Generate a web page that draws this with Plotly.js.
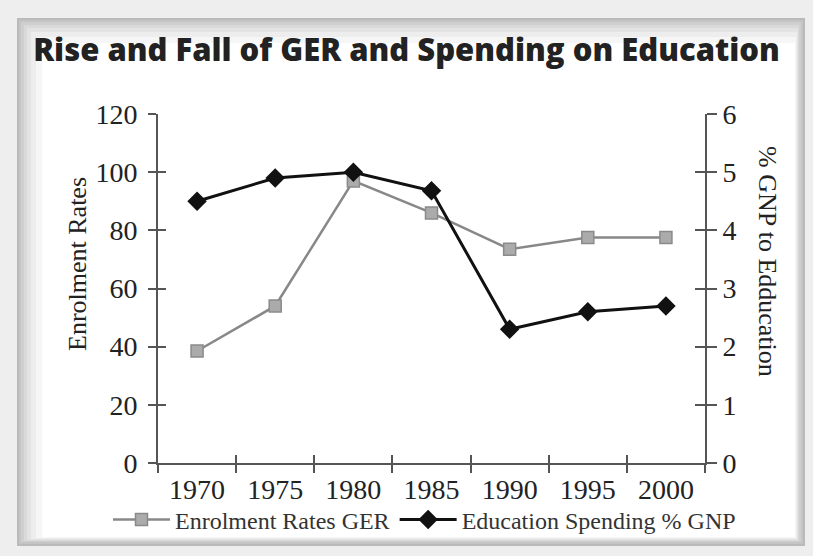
<!DOCTYPE html>
<html>
<head>
<meta charset="utf-8">
<script src="https://cdn.plot.ly/plotly-3.0.1.min.js"></script>
<style>html,body{margin:0;padding:0;background:#eeeeee;}#chart{width:813px;height:556px;}</style>
</head>
<body>
<div id="chart"></div>
<script>
// ---- data ----
const years = [1970, 1975, 1980, 1985, 1990, 1995, 2000];
const gerValues = [38.5, 54, 97, 86, 73.5, 77.5, 77.5];
const spendingValues = [4.5, 4.9, 5.0, 4.68, 2.3, 2.6, 2.7];
const gerName = "Enrolment Rates GER";
const spendingName = "Education Spending % GNP";
const titleText = "Rise and Fall of GER and Spending on Education";
const leftTitle = "Enrolment Rates";
const rightTitle = "% GNP to Edducation";

// ---- layout geometry ----
const W = 813, H = 556;
const L = 158, R = 705, T = 114, B = 463;
const px2x = p => (p - L) / (R - L);
const py2y = p => (B - p) / (B - T);

const half = (years[1] - years[0]) / 2;
const bounds = [years[0] - half].concat(years.map(y => y + half));
const xRange = [years[0] - half, years[years.length - 1] + half];

const serif = "Liberation Serif, Times New Roman, serif";
const axisColor = "#555";

function panelRect(x0, y0, x1, y1, fill) {
  return {type: "rect", xref: "paper", yref: "paper", layer: "below",
    x0: px2x(x0), x1: px2x(x1), y0: py2y(y1), y1: py2y(y0),
    fillcolor: fill, line: {width: 0}};
}
const shapes = [
  panelRect(17, 18, 805, 546, "#bababa"),
  panelRect(19, 20, 803, 544, "#c4c4c4"),
  panelRect(21, 22, 801, 542, "#cfcfcf"),
  panelRect(24, 25, 799, 541, "#d9d9d9"),
  panelRect(27, 28, 798, 540, "#e3e3e3"),
  panelRect(31, 32, 797, 539, "#ededed"),
  panelRect(36, 37, 796, 538, "#f6f6f6"),
  panelRect(42, 43, 795, 537, "#ffffff")
];

const dummy = (xa, ya) => ({x: [null], y: [null], xaxis: xa, yaxis: ya, type: "scatter", mode: "markers",
  showlegend: false, hoverinfo: "skip"});

const traces = [
  {x: years, y: gerValues, name: gerName, type: "scatter", mode: "lines+markers",
   xaxis: "x", yaxis: "y",
   line: {color: "#888888", width: 2.5},
   marker: {symbol: "square", size: 12, color: "#ababab", line: {color: "#8a8a8a", width: 1.5}}},
  {x: years, y: spendingValues, name: spendingName, type: "scatter", mode: "lines+markers",
   xaxis: "x", yaxis: "y2",
   line: {color: "#111111", width: 3},
   marker: {symbol: "diamond", size: 15, color: "#111111"}},
  dummy("x2", "y"), dummy("x", "y3"), dummy("x", "y4")
];

const tickFont = {family: serif, size: 28, color: "#222"};

const layout = {
  width: W, height: H,
  margin: {l: L, r: W - R, t: T, b: H - B},
  paper_bgcolor: "#eeeeee",
  plot_bgcolor: "rgba(0,0,0,0)",
  showlegend: true,
  title: {text: titleText, x: 0.5, xanchor: "center", y: 1 - 50 / H, yanchor: "middle", yref: "container",
          font: {family: "Open Sans, DejaVu Sans, sans-serif", size: 31, weight: 800, color: "#222"}},
  xaxis: {type: "linear", range: xRange, tickmode: "array", tickvals: years, ticktext: years.map(String),
          ticks: "", showgrid: false, zeroline: false, showline: true, linecolor: axisColor, linewidth: 2,
          tickfont: tickFont, ticklabelstandoff: 0,
          minor: {tickmode: "array", tickvals: bounds, ticks: "outside", ticklen: 8, tickwidth: 2, tickcolor: axisColor, showgrid: false}},
  xaxis2: {type: "linear", range: xRange, overlaying: "x", anchor: "y", side: "bottom", tickmode: "array", tickvals: bounds,
           ticks: "inside", ticklen: 8, tickwidth: 2, tickcolor: axisColor, showticklabels: false,
           showgrid: false, zeroline: false, showline: false},
  yaxis: {range: [0, 120], tickmode: "linear", tick0: 0, dtick: 20, ticks: "outside", ticklen: 8, tickwidth: 2,
          tickcolor: axisColor, showline: true, linecolor: axisColor, linewidth: 2, showgrid: false, zeroline: false,
          tickfont: tickFont, ticklabelstandoff: 5},
  yaxis3: {range: [0, 120], overlaying: "y", anchor: "x", side: "left", tickmode: "linear", tick0: 0, dtick: 20,
           ticks: "inside", ticklen: 8, tickwidth: 2, tickcolor: axisColor, showticklabels: false,
           showgrid: false, zeroline: false, showline: false},
  yaxis2: {range: [0, 6], overlaying: "y", anchor: "x", side: "right", tickmode: "linear", tick0: 0, dtick: 1,
           ticks: "outside", ticklen: 10, tickwidth: 2, tickcolor: axisColor, showline: true, linecolor: axisColor,
           linewidth: 2, showgrid: false, zeroline: false, tickfont: tickFont, ticklabelstandoff: 0},
  yaxis4: {range: [0, 6], overlaying: "y", anchor: "x", side: "right", tickmode: "linear", tick0: 0, dtick: 1,
           ticks: "inside", ticklen: 10, tickwidth: 2, tickcolor: axisColor, showticklabels: false,
           showgrid: false, zeroline: false, showline: false},
  legend: {orientation: "h", xref: "paper", yref: "paper", x: px2x(108), xanchor: "left",
           y: py2y(520), yanchor: "middle", itemwidth: 57,
           bgcolor: "rgba(0,0,0,0)", font: {family: serif, size: 24, color: "#333"}},
  annotations: [
    {text: leftTitle, xref: "paper", yref: "paper", x: px2x(77), y: py2y(264), textangle: -90,
     showarrow: false, xanchor: "center", yanchor: "middle", font: {family: serif, size: 26, color: "#222"}},
    {text: rightTitle, xref: "paper", yref: "paper", x: px2x(768), y: py2y(262), textangle: 90,
     showarrow: false, xanchor: "center", yanchor: "middle", font: {family: serif, size: 26, color: "#222"}}
  ],
  shapes: shapes
};

Plotly.newPlot("chart", traces, layout, {displayModeBar: false, staticPlot: true});
</script>
</body>
</html>
